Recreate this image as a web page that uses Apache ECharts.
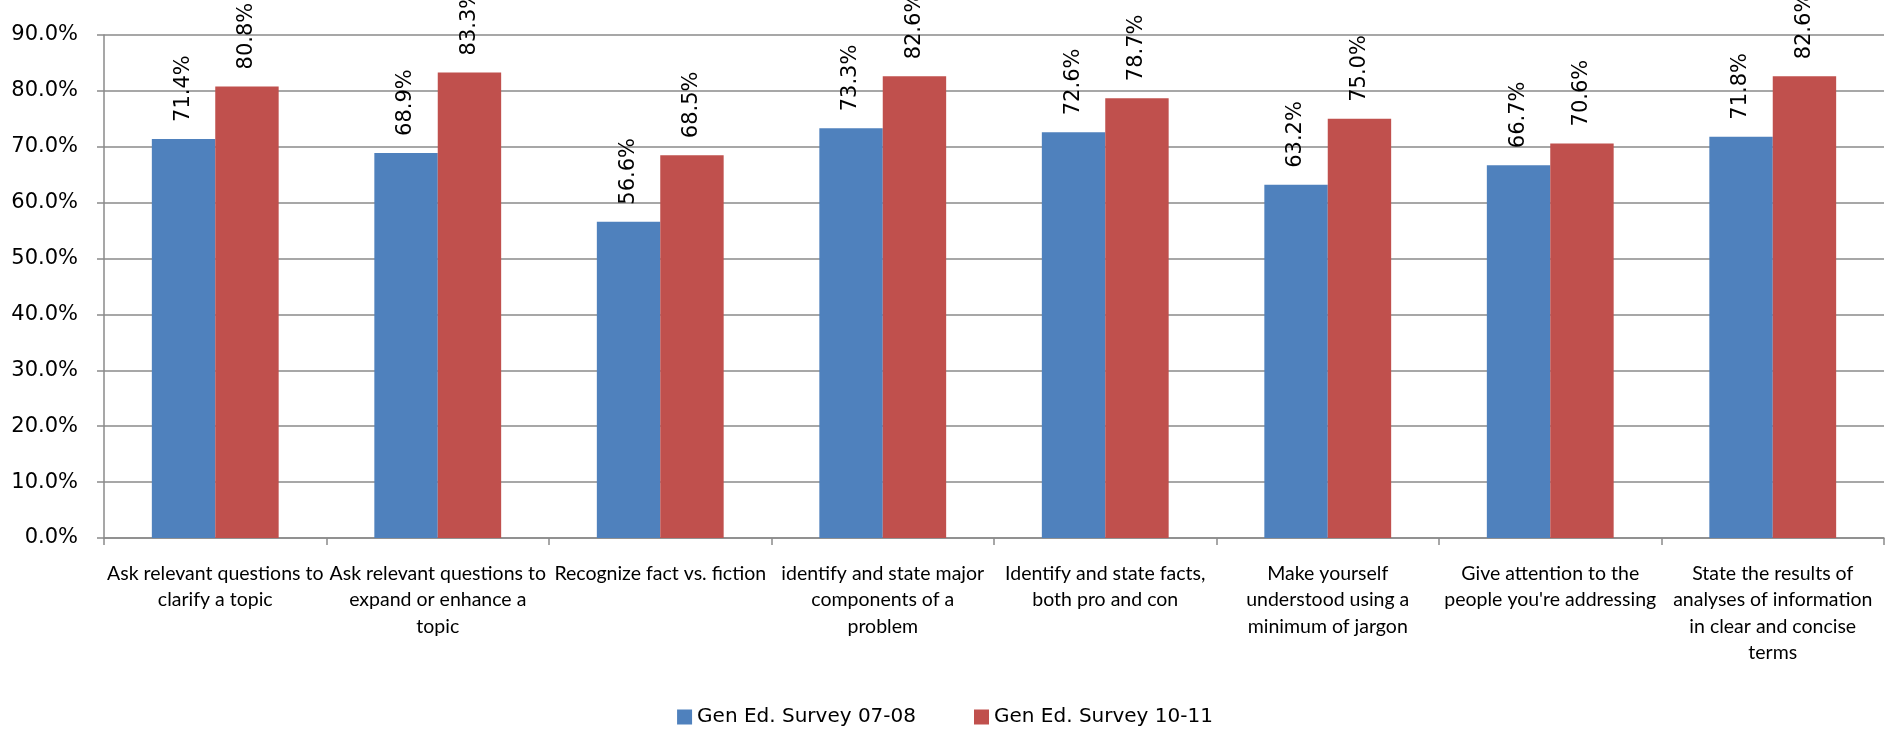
<!DOCTYPE html>
<html>
<head>
<meta charset="utf-8">
<script src="https://cdn.jsdelivr.net/npm/echarts@6/dist/echarts.min.js"></script>
<style>html,body{margin:0;padding:0;background:#fff}#c{width:1890px;height:734px}</style>
</head>
<body>
<div id="c"></div>
<script>
var categories = [
  "Ask relevant questions to\nclarify a topic",
  "Ask relevant questions to\nexpand or enhance a\ntopic",
  "Recognize fact vs. fiction",
  "identify and state major\ncomponents of a\nproblem",
  "Identify and state facts,\nboth pro and con",
  "Make yourself\nunderstood using a\nminimum of jargon",
  "Give attention to the\npeople you're addressing",
  "State the results of\nanalyses of information\nin clear and concise\nterms"
];
var seriesNames = ["Gen Ed. Survey 07-08", "Gen Ed. Survey 10-11"];
var survey0708 = [71.4, 68.9, 56.6, 73.3, 72.6, 63.2, 66.7, 71.8];
var survey1011 = [80.8, 83.3, 68.5, 82.6, 78.7, 75.0, 70.6, 82.6];
var yTicks = { min: 0, max: 90, interval: 10 };

var chart = echarts.init(document.getElementById('c'), null, { renderer: 'canvas' });
var lineColor = '#8a8a8a';
function pct(v) { return Number(v).toFixed(1) + '%'; }
var labelCfg = {
  show: true,
  position: 'top',
  rotate: 90,
  align: 'left',
  verticalAlign: 'middle',
  distance: 17,
  fontFamily: 'DejaVu Sans',
  fontSize: 21,
  color: '#000',
  formatter: function (p) { return pct(p.value); }
};
chart.setOption({
  animation: false,
  backgroundColor: '#fff',
  grid: { left: 104, right: 6, top: 35, bottom: 196 },
  legend: {
    data: seriesNames,
    bottom: 2,
    left: 'center',
    icon: 'rect',
    itemWidth: 15,
    itemHeight: 15,
    itemGap: 58,
    textStyle: { fontFamily: 'DejaVu Sans', fontSize: 20, color: '#000' }
  },
  xAxis: {
    type: 'category',
    data: categories,
    axisLine: { lineStyle: { color: lineColor, width: 1.5 } },
    axisTick: { show: true, length: 7, lineStyle: { color: lineColor, width: 1.5 } },
    axisLabel: {
      interval: 0,
      margin: 22,
      fontFamily: 'Lato',
      fontSize: 19.5,
      lineHeight: 26.5,
      color: '#000',
      align: 'center'
    }
  },
  yAxis: {
    type: 'value',
    min: yTicks.min,
    max: yTicks.max,
    interval: yTicks.interval,
    axisLine: { show: true, lineStyle: { color: lineColor, width: 1.5 } },
    axisTick: { show: true, length: 7, lineStyle: { color: lineColor, width: 1.5 } },
    splitLine: { lineStyle: { color: lineColor, width: 1.5 } },
    axisLabel: {
      margin: 26,
      fontFamily: 'DejaVu Sans',
      fontSize: 21,
      color: '#000',
      formatter: function (v) { return pct(v); }
    }
  },
  series: [
    { name: seriesNames[0], type: 'bar', data: survey0708, barGap: '0%', barCategoryGap: '43%',
      itemStyle: { color: '#4F81BD' }, label: labelCfg },
    { name: seriesNames[1], type: 'bar', data: survey1011, barGap: '0%', barCategoryGap: '43%',
      itemStyle: { color: '#C0504D' }, label: labelCfg }
  ]
});
</script>
</body>
</html>
